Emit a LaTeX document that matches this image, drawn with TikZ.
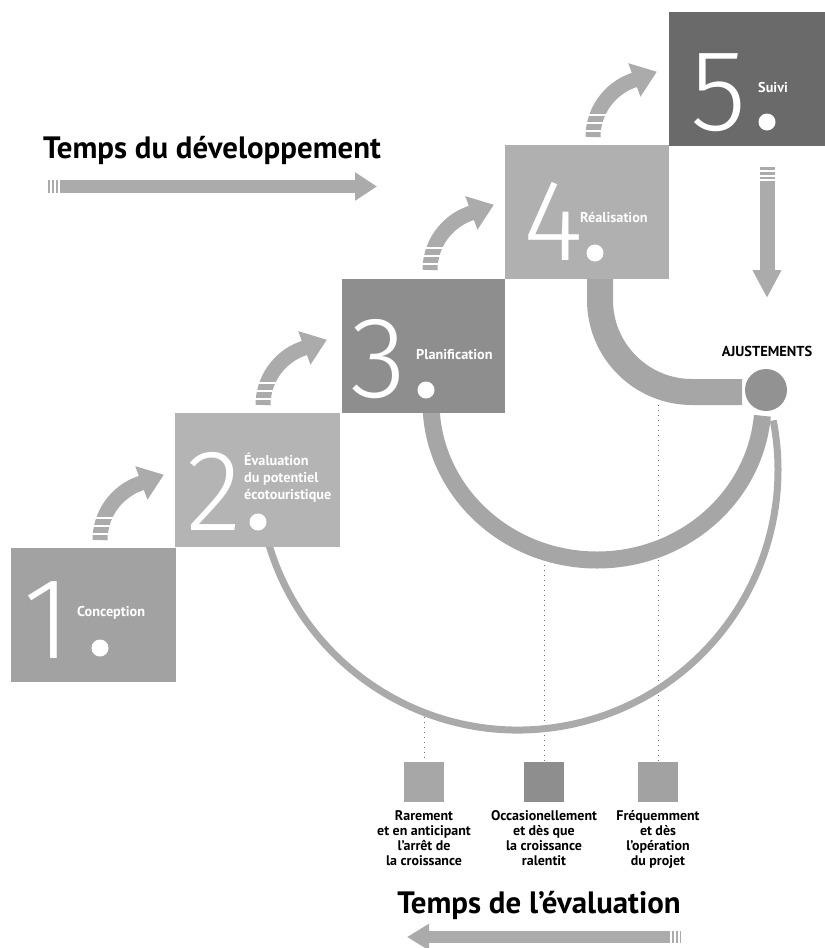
\documentclass[tikz,border=0pt]{standalone}
\usepackage{fontspec}
\setmainfont{PT Sans}
\IfFontExistsTF{Fira Sans Light}{\newfontfamily\digitfont{Fira Sans Light}}{\newfontfamily\digitfont{Fira Sans}}
\usetikzlibrary{arrows.meta}
\definecolor{sqone}{HTML}{A2A2A2}
\definecolor{sqtwo}{HTML}{B4B4B4}
\definecolor{sqthree}{HTML}{8E8E8E}
\definecolor{sqfour}{HTML}{B0B0B0}
\definecolor{sqfive}{HTML}{6A6A6A}
\definecolor{arrowgray}{HTML}{ABABAB}
\definecolor{bandgray}{HTML}{A6A6A6}
\definecolor{dotline}{HTML}{707070}
\tikzset{
  sq/.style={minimum width=164bp, minimum height=134bp, inner sep=0pt, outer sep=0pt},
  digit/.style={font=\digitfont\fontsize{116}{116}\selectfont, text=white, inner sep=0pt, anchor=base east},
  lab/.style={font=\bfseries\fontsize{14.3}{17}\selectfont, text=white, inner sep=0pt, anchor=west, align=left},
  whitedot/.style={circle, fill=white, minimum size=17bp, inner sep=0pt},
  curvarrow/.style={draw=arrowgray, line width=15bp, -{Triangle[length=24bp,width=34bp]}},
  gapline/.style={draw=white, line width=2bp},
  timearrow/.style={draw=arrowgray, line width=13bp, -{Triangle[length=22bp,width=27bp]}},
  title/.style={font=\bfseries\fontsize{31}{35}\selectfont, inner sep=0pt},
  boxlab/.style={font=\bfseries\fontsize{14}{15.3}\selectfont, inner sep=0pt, align=center, anchor=north},
  freqbox/.style={minimum size=40bp, inner sep=0pt},
  dotv/.style={draw=dotline, line width=1bp, dash pattern=on 1bp off 4bp},
}
\begin{document}
\begin{tikzpicture}[x=1bp,y=1bp]
\useasboundingbox (0,0) rectangle (825,-948);
\fill[white] (0,0) rectangle (825,-948);

% frequency boxes
\node[freqbox, fill=sqone!95] (b1) at (424,-782) {};
\node[freqbox, fill=sqthree] (b2) at (544,-782) {};
\node[freqbox, fill=sqone] (b3) at (658,-782) {};

% coordinates on the arcs
\coordinate (c1) at (424,-712);
\coordinate (c2) at (544,-560);
\coordinate (c3) at (658,-405);
\draw[dotv] (c1) -- (b1.north);
\draw[dotv] (c2) -- (b2.north);
\draw[dotv] (c3) -- (b3.north);

% arcs
\draw[draw=bandgray!95, line width=7bp] (518,-470) ++(190:260bp) arc[start angle=190, end angle=371, radius=260bp] coordinate (endC);
\draw[draw=bandgray, line width=17bp] (597,-402) ++(180:166bp) arc[start angle=180, end angle=355, x radius=166bp, y radius=158bp] coordinate (endB);
\draw[draw=bandgray, line width=26bp] (600,-270) -- (600,-300) arc[start angle=180, end angle=270, radius=92bp] -- (742,-392) coordinate (endA);

% squares
\node[sq, fill=sqone] (s1) at (93.5,-615) {};
\node[sq, fill=sqtwo, minimum width=165bp] (s2) at (257.5,-480) {};
\node[sq, fill=sqthree, minimum width=163bp] (s3) at (423.5,-345.5) {};
\node[sq, fill=sqfour] (s4) at (587,-211.5) {};
\node[sq, fill=sqfive, minimum width=156bp] (s5) at (747,-78.5) {};

% digits
\node[digit] (n1) at (71,-658) {1};
\node[digit] (n2) at (242,-530) {2};
\node[digit] (n3) at (407,-397) {3};
\node[digit] (n4) at (584,-260) {4};
\node[digit] (n5) at (747,-130) {5};
\node[whitedot] (p1) at (100,-648) {};
\node[whitedot] (p2) at (258,-522) {};
\node[whitedot] (p3) at (426,-390) {};
\node[whitedot] (p4) at (595,-253) {};
\node[whitedot] (p5) at (767,-122) {};

% labels inside squares
\node[lab] (l1) at (77,-613) {Conception};
\node[lab, anchor=north west] (l2) at (244,-453) {Évaluation\\du potentiel\\écotouristique};
\node[lab] (l3) at (416,-355) {Planification};
\node[lab] (l4) at (580,-217) {Réalisation};
\node[lab] (l5) at (758,-88) {Suivi};

% curved arrows between steps
\coordinate (t12) at (100,-540);
\coordinate (t23) at (263,-405);
\coordinate (t34) at (430,-270);
\coordinate (t45) at (593,-137);
\foreach \t in {t12,t23,t34,t45}{
  \draw[curvarrow] (\t) arc[start angle=180, end angle=110, radius=60bp] -- ++(20:26bp);
  \foreach \dy in {6,14,22}{
    \draw[gapline, line width=2.5bp] (\t) ++(-12bp,\dy bp) -- ++(40bp,0);
  }
}

% development time arrow
\coordinate (dA) at (48,-186.5);
\coordinate (dB) at (377,-186.5);
\draw[timearrow] (dA) -- (dB);
\foreach \x in {51,55,59}{\draw[gapline] (\x,-178) -- (\x,-195);}

% arrow from Suivi down to adjustments
\coordinate (vA) at (767,-167);
\coordinate (vB) at (767,-298);
\draw[timearrow, line width=15bp, -{Triangle[length=28bp,width=27bp]}] (vA) -- (vB);
\foreach \y in {-171,-175.5,-180}{\draw[gapline] (757,\y) -- (777,\y);}

% adjustments circle
\node[circle, fill=sqthree!80!sqone, minimum size=42bp, inner sep=0pt] (adj) at (766,-390) {};
\node[font=\bfseries\fontsize{14.5}{16}\selectfont, inner sep=0pt] (adjlab) at (767,-351) {AJUSTEMENTS};

% titles
\node[title, anchor=base west] (tdev) at (43,-158) {Temps du développement};
\node[title, anchor=base] (teval) at (539,-913) {Temps de l’évaluation};

% evaluation time arrow
\coordinate (eA) at (681,-937);
\coordinate (eB) at (407,-937);
\draw[timearrow, line width=12bp, -{Triangle[length=22bp,width=25bp]}] (eA) -- (eB);
\foreach \x in {679,675,671}{\draw[gapline] (\x,-929) -- (\x,-945);}

% box labels
\node[boxlab] (bl1) at (424,-810) {Rarement\\et en anticipant\\l’arrêt de\\la croissance};
\node[boxlab] (bl2) at (544,-810) {Occasionellement\\et dès que\\la croissance\\ralentit};
\node[boxlab] (bl3) at (658,-810) {Fréquemment\\et dès\\l’opération\\du projet};
\end{tikzpicture}
\end{document}
